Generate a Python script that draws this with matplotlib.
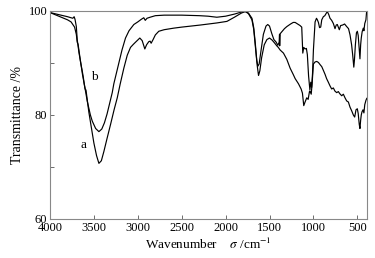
import matplotlib
matplotlib.use("Agg")
import matplotlib.pyplot as plt
from matplotlib.ticker import MultipleLocator

plt.rcParams['font.family'] = ['Liberation Serif', 'DejaVu Serif']
plt.rcParams['mathtext.fontset'] = 'stix'

# Curve a (deeper O-H band)
a_wn = [4000, 3900, 3800, 3760, 3720, 3700, 3690, 3680, 3660, 3630, 3600, 3590, 3557, 3500, 3470,
        3443, 3415, 3386, 3350, 3310, 3270, 3234, 3200, 3159, 3120, 3083, 3050, 3026, 2977, 2950,
        2920, 2900, 2875, 2860, 2848, 2826, 2800, 2761, 2700, 2591, 2500, 2288, 2100, 1985, 1900,
        1820, 1776, 1740, 1700, 1680, 1663, 1640, 1625, 1610, 1590, 1560, 1530, 1500, 1470, 1440,
        1417, 1400, 1379, 1341, 1303, 1265, 1230, 1208, 1170, 1140, 1125, 1110, 1095, 1076, 1060,
        1045, 1040, 1025, 1015, 1000, 981, 962, 943, 920, 905, 887, 867, 850, 830, 811,
        792, 773, 755, 735, 716, 700, 678, 659, 640, 621, 602, 583, 564, 545, 530,
        515, 500, 490, 478, 470, 462, 455, 447, 435, 425, 415, 402, 392]
a_t = [99.7, 99.0, 98.3, 97.9, 96.9, 95.5, 94.0, 93.6, 91.2, 87.8, 85.0, 84.8, 80.5, 74.6, 72.2,
       70.7, 71.2, 73.0, 75.5, 78.2, 81.0, 83.3, 86.0, 89.0, 91.5, 93.0, 93.6, 94.0, 94.8, 94.3,
       92.7, 93.5, 94.1, 94.2, 93.8, 94.5, 95.4, 96.1, 96.4, 96.7, 96.9, 97.3, 97.7, 98.0, 98.8,
       99.6, 99.9, 99.5, 98.3, 96.5, 93.5, 89.5, 87.6, 88.5, 91.0, 93.5, 94.5, 94.8, 94.4, 93.8,
       93.3, 93.0, 92.5, 91.9, 90.7, 89.0, 87.8, 87.0, 86.0, 85.0, 84.2, 81.8, 82.5, 83.3, 83.0,
       84.5, 84.6, 84.0, 86.0, 89.8, 90.2, 90.3, 90.1, 89.6, 89.3, 88.6, 87.8, 87.0, 86.3, 85.6,
       85.0, 85.2, 84.6, 84.3, 84.5, 84.1, 83.7, 84.0, 83.3, 82.7, 82.5, 81.5, 80.8, 80.0, 79.6,
       81.0, 81.2, 80.3, 78.2, 77.4, 79.0, 80.0, 80.6, 81.0, 80.4, 82.0, 82.8, 83.2]

# Curve b
b_wn = [4000, 3900, 3800, 3740, 3725, 3715, 3700, 3690, 3670, 3650, 3632, 3620, 3610, 3575, 3540,
        3518, 3480, 3443, 3410, 3380, 3350, 3320, 3291, 3273, 3250, 3216, 3180, 3140, 3100, 3045,
        3000, 2960, 2932, 2915, 2895, 2860, 2800, 2700, 2500, 2300, 2200, 2100, 2000, 1900, 1820,
        1776, 1740, 1700, 1680, 1663, 1645, 1632, 1618, 1600, 1570, 1540, 1520, 1500, 1473, 1450,
        1424, 1405, 1390, 1386, 1384, 1380, 1360, 1330, 1303, 1260, 1230, 1208, 1180, 1152, 1133,
        1121, 1110, 1095, 1080, 1069, 1055, 1040, 1030, 1020, 1010, 1000, 992, 981, 965, 955,
        943, 930, 917, 905, 887, 870, 842, 825, 811, 792, 773, 754, 740, 728, 715,
        705, 690, 667, 645, 621, 600, 583, 565, 553, 540, 533, 522, 510, 500, 490,
        480, 470, 462, 455, 445, 432, 425, 415, 402, 394]
b_t = [99.7, 99.3, 98.9, 98.6, 98.9, 98.4, 97.0, 94.5, 92.0, 90.0, 88.4, 87.2, 86.0, 82.6, 80.0,
       78.8, 77.4, 76.8, 77.3, 78.5, 80.2, 82.3, 84.3, 86.0, 87.6, 90.0, 92.5, 94.8, 96.2, 97.4,
       97.9, 98.4, 98.7, 98.2, 98.6, 98.8, 99.1, 99.2, 99.2, 99.1, 99.0, 98.8, 99.0, 99.4, 99.8,
       99.9, 99.6, 98.6, 96.8, 94.0, 90.5, 89.4, 89.8, 92.0, 95.5, 97.1, 97.4, 97.1, 95.6, 94.5,
       94.0, 93.4, 94.0, 95.5, 93.3, 95.6, 96.0, 96.6, 97.0, 97.5, 97.8, 97.8, 97.5, 97.2, 96.9,
       91.9, 93.0, 92.7, 92.8, 91.6, 87.5, 84.8, 86.3, 85.3, 88.0, 92.5, 94.8, 97.9, 98.6, 98.3,
       97.8, 96.8, 96.9, 98.3, 98.9, 99.1, 99.9, 99.3, 98.6, 98.2, 97.6, 96.6, 97.3, 97.4, 96.8,
       96.4, 97.2, 97.3, 97.5, 97.0, 96.6, 95.4, 93.5, 91.6, 89.2, 90.5, 93.5, 95.8, 96.1, 95.3,
       93.0, 90.8, 93.5, 94.8, 96.0, 96.7, 96.2, 97.6, 98.3, 99.9]

x_ticks = [4000, 3500, 3000, 2500, 2000, 1500, 1000, 500]
y_ticks = [60, 80, 100]

fig = plt.figure(figsize=(3.75, 2.58), dpi=100)
ax = fig.add_axes([0.1333, 0.1512, 0.8453, 0.8062])
ax.plot(a_wn, a_t, color='black', lw=0.85)
ax.plot(b_wn, b_t, color='black', lw=0.85)
ax.set_xlim(4000, 390)
ax.set_ylim(60, 100)
ax.set_xticks(x_ticks)
ax.set_yticks(y_ticks)
ax.yaxis.set_minor_locator(MultipleLocator(10))
ax.tick_params(axis='both', which='both', direction='in', labelsize=9, color='#555555',
               top=False, right=False, pad=2)
ax.tick_params(which='major', length=3, width=0.6)
ax.tick_params(which='minor', length=3, width=0.6)
for s in ax.spines.values():
    s.set_color('#888888')
    s.set_linewidth(0.8)

ax.text(3500, 87.4, 'b', fontsize=9.5, ha='center', va='center')
ax.text(3614, 74.2, 'a', fontsize=9.5, ha='center', va='center')

ax.set_xlabel('Wavenumber    $\\sigma$ /cm$^{-1}$', fontsize=9.5, labelpad=2)
ax.set_ylabel('Transmittance /%', fontsize=10, labelpad=3)

fig.savefig('out.png', dpi=100)
